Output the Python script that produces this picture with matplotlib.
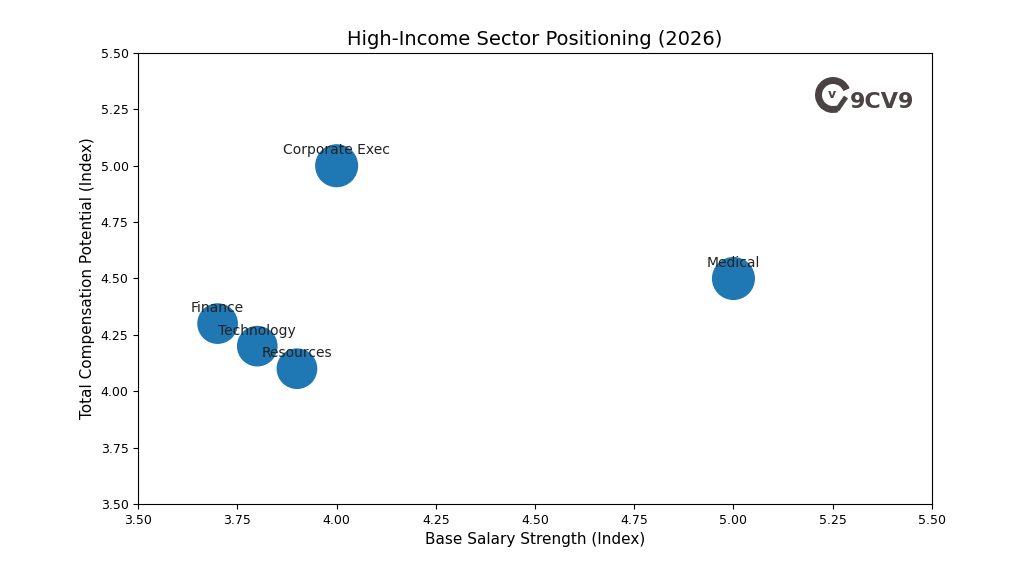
import matplotlib.pyplot as plt
from matplotlib.patches import Arc
from matplotlib.lines import Line2D

sectors = ["Finance", "Technology", "Resources", "Corporate Exec", "Medical"]
base_salary = [3.7, 3.8, 3.9, 4.0, 5.0]
total_comp = [4.3, 4.2, 4.1, 5.0, 4.5]
bubble_size = [800, 800, 800, 900, 900]

fig = plt.figure(figsize=(10.24, 5.76), dpi=100)
ax = fig.add_axes([0.135, 0.125, 0.775, 0.783])

ax.scatter(base_salary, total_comp, s=bubble_size, color="#1f77b4")
for name, x, y in zip(sectors, base_salary, total_comp):
    ax.annotate(name, (x, y), xytext=(0, 11), textcoords="offset points",
                ha="center", va="center", fontsize=10, color="#222222")

ax.set_xlim(3.5, 5.5)
ax.set_ylim(3.5, 5.5)
ticks = [3.5, 3.75, 4.0, 4.25, 4.5, 4.75, 5.0, 5.25, 5.5]
ax.set_xticks(ticks)
ax.set_yticks(ticks)
ax.set_xticklabels([f"{t:.2f}" for t in ticks], fontsize=9)
ax.set_yticklabels([f"{t:.2f}" for t in ticks], fontsize=9)
ax.set_xlabel("Base Salary Strength (Index)", fontsize=11)
ax.set_ylabel("Total Compensation Potential (Index)", fontsize=11)
ax.set_title("High-Income Sector Positioning (2026)", fontsize=14)

# 9CV9 logo (approximation)
logo = "#4b4343"
fig.patches.append(Arc((833 / 1024, 1 - 95 / 576), 29 / 1024, 29 / 576,
                       theta1=35, theta2=280, lw=5, color=logo,
                       transform=fig.transFigure))
fig.lines.append(Line2D([837 / 1024, 846 / 1024], [1 - 110 / 576, 1 - 97 / 576],
                        lw=3.5, color=logo, solid_capstyle="butt",
                        transform=fig.transFigure))
fig.text(832 / 1024, 1 - 94 / 576, "v", fontsize=9, fontweight="bold", color=logo,
         ha="center", va="center")
fig.text(850 / 1024, 1 - 102 / 576, "9CV9", fontsize=16, fontweight="bold",
         color=logo, ha="left", va="center")

fig.savefig("out.png", dpi=100)
